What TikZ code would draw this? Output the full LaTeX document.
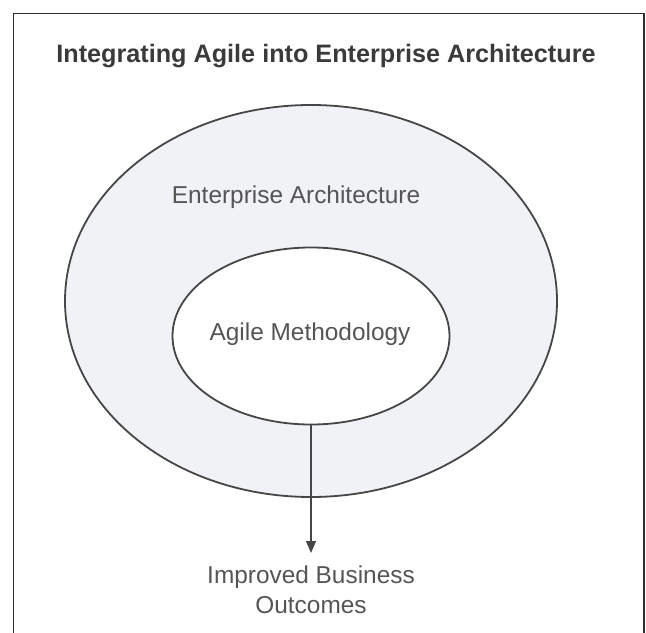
\documentclass[tikz,border=0pt]{standalone}
\usepackage{fontspec}
\setmainfont{Liberation Sans}
\usetikzlibrary{shapes.geometric,arrows.meta}
\definecolor{framegray}{HTML}{2E2E2E}
\definecolor{edgegray}{HTML}{464646}
\definecolor{titlegray}{HTML}{3A3A3A}
\definecolor{textgray}{HTML}{555555}
\definecolor{outerfill}{HTML}{F1F2F5}
\tikzset{
  ring/.style={ellipse, draw=edgegray, line width=1.8bp, inner sep=0pt},
  label text/.style={text=textgray, font=\fontsize{24.5}{30}\selectfont, inner sep=0pt},
  flow/.style={draw=edgegray, line width=1.3bp, -{Triangle[width=10bp,length=12bp]}},
}
\begin{document}
\begin{tikzpicture}[x=1bp,y=-1bp]
  \useasboundingbox (0,0) rectangle (646,633);
  % open frame around the diagram
  \draw[framegray, line width=1.6bp] (13.5,640) -- (13.5,13.5) -- (644,13.5) -- (644,640);
  % title
  \node[anchor=base, text=titlegray, inner sep=0pt,
        font=\fontsize{25.3}{30}\selectfont\bfseries] (title) at (326,63)
        {Integrating Agile into Enterprise Architecture};
  % nested ellipses
  \node[ring, fill=outerfill, minimum width=492bp, minimum height=392bp] (ea) at (311,301) {};
  \node[ring, fill=white, minimum width=277bp, minimum height=177bp] (agile) at (311,336) {};
  \node[label text, anchor=base] (eatext) at (296,203) {Enterprise Architecture};
  \node[label text, anchor=base] (agtext) at (310,340) {Agile Methodology};
  % outcome
  \node[label text, anchor=north, align=center] (outc) at (311,566)
        {Improved Business\\Outcomes};
  \draw[flow, shorten >=13bp] (agile.south) -- (outc.north);
\end{tikzpicture}
\end{document}
